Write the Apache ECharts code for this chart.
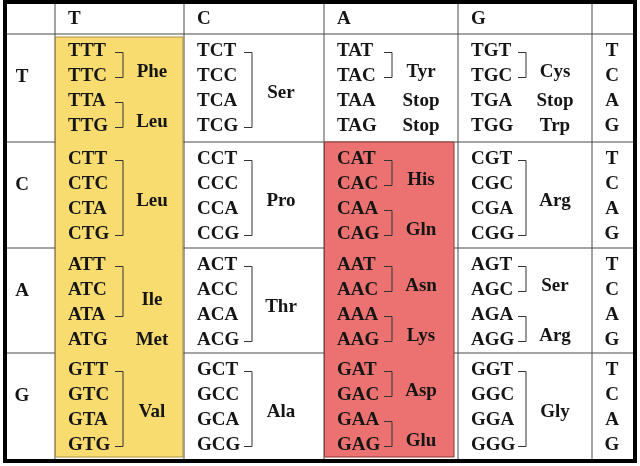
<!DOCTYPE html>
<html>
<head>
<meta charset="utf-8">
<script src="https://cdn.jsdelivr.net/npm/echarts@6/dist/echarts.min.js"></script>
<style>
  html, body { margin: 0; padding: 0; background: #ffffff; }
  #chart { width: 640px; height: 466px; }
</style>
</head>
<body>
<div id="chart"></div>
<script>
// ---------------- DATA ----------------
const firstBases = ['T', 'C', 'A', 'G'];   // row labels (1st position)
const secondBases = ['T', 'C', 'A', 'G'];  // column headers (2nd position)
const thirdBases = ['T', 'C', 'A', 'G'];   // right column (3rd position)

// amino-acid groups per block: [name, first third-base index, last third-base index]
const aminoRowT = [
  [['Phe', 0, 1], ['Leu', 2, 3]],
  [['Ser', 0, 3]],
  [['Tyr', 0, 1], ['Stop', 2, 2], ['Stop', 3, 3]],
  [['Cys', 0, 1], ['Stop', 2, 2], ['Trp', 3, 3]]
];
const aminoRowC = [
  [['Leu', 0, 3]],
  [['Pro', 0, 3]],
  [['His', 0, 1], ['Gln', 2, 3]],
  [['Arg', 0, 3]]
];
const aminoRowA = [
  [['Ile', 0, 2], ['Met', 3, 3]],
  [['Thr', 0, 3]],
  [['Asn', 0, 1], ['Lys', 2, 3]],
  [['Ser', 0, 1], ['Arg', 2, 3]]
];
const aminoRowG = [
  [['Val', 0, 3]],
  [['Ala', 0, 3]],
  [['Asp', 0, 1], ['Glu', 2, 3]],
  [['Gly', 0, 3]]
];
const aminoGroups = [aminoRowT, aminoRowC, aminoRowA, aminoRowG];

// highlighted blocks: [second-base column index, first row index, last row index, colour key]
const highlightBlocks = [
  [0, 0, 3, 'yellow'],
  [2, 1, 3, 'red']
];

// ---------------- LAYOUT / STYLE ----------------
const W = 640, H = 466;
const colEdges = [5, 55, 184, 324, 458, 592, 635];
const rowEdges = [2, 34, 142, 248, 353, 461];
const LINE_GAP = 25;
const FIRST_LINE = 17;
const FONT = '"Liberation Serif", "Times New Roman", serif';
const FS = 19;
const TEXT_COLOR = '#151515';
const fills = {
  yellow: { fill: '#F8DC70', stroke: '#A89040' },
  red: { fill: '#EB7270', stroke: '#8E3A38' }
};

function lineY(row, k) { return rowEdges[row + 1] + FIRST_LINE + k * LINE_GAP; }

const chart = echarts.init(document.getElementById('chart'), null, { renderer: 'canvas' });

function txt(api, x, y, s, align) {
  const p = api.coord([x, y]);
  return {
    type: 'text',
    style: {
      x: p[0], y: p[1], text: s,
      fill: TEXT_COLOR,
      font: 'bold ' + FS + 'px ' + FONT,
      textAlign: align || 'left',
      textVerticalAlign: 'middle'
    }
  };
}

// blocks data: [row, col]
const blockData = [];
firstBases.forEach((_, r) => secondBases.forEach((_, c) => blockData.push([r, c])));

const option = {
  animation: false,
  grid: { left: 0, right: 0, top: 0, bottom: 0 },
  xAxis: { type: 'value', min: 0, max: W, show: false },
  yAxis: { type: 'value', min: 0, max: H, inverse: true, show: false },
  series: [
    // grid lines
    {
      type: 'custom',
      coordinateSystem: 'cartesian2d',
      data: [[0]],
      z: 1,
      renderItem: function (params, api) {
        const children = [];
        const x0 = colEdges[0], x1 = colEdges[colEdges.length - 1];
        const y0 = rowEdges[0], y1 = rowEdges[rowEdges.length - 1];
        for (let i = 1; i < colEdges.length - 1; i++) {
          const a = api.coord([colEdges[i], y0]), b = api.coord([colEdges[i], y1]);
          children.push({ type: 'line', shape: { x1: a[0], y1: a[1], x2: b[0], y2: b[1] }, style: { stroke: '#4a4a4a', lineWidth: 1 } });
        }
        for (let i = 1; i < rowEdges.length - 1; i++) {
          const a = api.coord([x0, rowEdges[i]]), b = api.coord([x1, rowEdges[i]]);
          children.push({ type: 'line', shape: { x1: a[0], y1: a[1], x2: b[0], y2: b[1] }, style: { stroke: '#4a4a4a', lineWidth: 1 } });
        }
        return { type: 'group', children: children };
      }
    },
    // highlight boxes
    {
      type: 'custom',
      coordinateSystem: 'cartesian2d',
      data: highlightBlocks,
      z: 2,
      renderItem: function (params, api) {
        const c = api.value(0), r0 = api.value(1), r1 = api.value(2);
        const key = highlightBlocks[params.dataIndex][3];
        const top = r0 === 0 ? rowEdges[1] + 3 : rowEdges[r0 + 1];
        const a = api.coord([colEdges[c + 1] + 0.5, top]);
        const b = api.coord([colEdges[c + 2] - (key === 'red' ? 4 : 1), rowEdges[r1 + 2] - 4]);
        return {
          type: 'rect',
          shape: { x: a[0], y: a[1], width: b[0] - a[0], height: b[1] - a[1] },
          style: { fill: fills[key].fill, stroke: fills[key].stroke, lineWidth: 1 }
        };
      }
    },
    // outer frame
    {
      type: 'custom',
      coordinateSystem: 'cartesian2d',
      data: [[0]],
      z: 5,
      renderItem: function (params, api) {
        const a = api.coord([colEdges[0], rowEdges[0]]);
        const b = api.coord([colEdges[colEdges.length - 1], rowEdges[rowEdges.length - 1]]);
        return {
          type: 'rect',
          shape: { x: a[0], y: a[1], width: b[0] - a[0], height: b[1] - a[1] },
          style: { fill: 'none', stroke: '#000', lineWidth: 4 }
        };
      }
    },
    // headers, row labels, third-base labels
    {
      type: 'custom',
      coordinateSystem: 'cartesian2d',
      data: [[0]],
      z: 6,
      renderItem: function (params, api) {
        const children = [];
        secondBases.forEach((b, c) => children.push(txt(api, colEdges[c + 1] + 13, 19, b)));
        firstBases.forEach((b, r) => {
          children.push(txt(api, 22, lineY(r, 1) + 1, b, 'center'));
          thirdBases.forEach((t, k) => children.push(txt(api, 612, lineY(r, k), t, 'center')));
        });
        return { type: 'group', children: children };
      }
    },
    // codon blocks
    {
      type: 'custom',
      coordinateSystem: 'cartesian2d',
      data: blockData,
      z: 7,
      renderItem: function (params, api) {
        const r = api.value(0), c = api.value(1);
        const left = colEdges[c + 1];
        const children = [];
        thirdBases.forEach((t, k) => {
          children.push(txt(api, left + 13, lineY(r, k), firstBases[r] + secondBases[c] + t));
        });
        aminoGroups[r][c].forEach(g => {
          const [name, s, e] = g;
          const n = e - s + 1;
          const ys = lineY(r, s) + 1.5, ye = lineY(r, e) + 1.5;
          if (n > 1) {
            const p1 = api.coord([left + 60, ys]), p2 = api.coord([left + 68, ys]);
            const p3 = api.coord([left + 68, ye]), p4 = api.coord([left + 60, ye]);
            children.push({ type: 'polyline', shape: { points: [p1, p2, p3, p4] }, style: { stroke: '#333', lineWidth: 1, fill: null } });
          }
          const mid = (lineY(r, s) + lineY(r, e)) / 2;
          const off = n === 2 ? 9 : (n === 3 ? 10 : (n === 4 ? 5 : 0));
          children.push(txt(api, left + 97, mid + off, name, 'center'));
        });
        return { type: 'group', children: children };
      }
    }
  ]
};
chart.setOption(option);
</script>
</body>
</html>
